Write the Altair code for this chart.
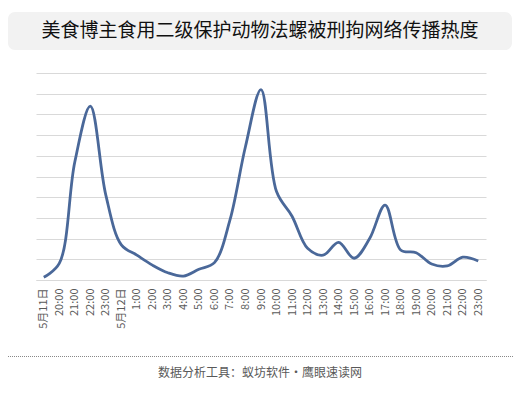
import altair as alt
import pandas as pd

# Data (units = gridline steps)
labels = ["5月11日", "20:00", "21:00", "22:00", "23:00", "5月12日",
          "1:00", "2:00", "3:00", "4:00", "5:00", "6:00", "7:00", "8:00",
          "9:00", "10:00", "11:00", "12:00", "13:00", "14:00", "15:00",
          "16:00", "17:00", "18:00", "19:00", "20:00", "21:00", "22:00", "23:00"]
values = [0.13, 0.8, 5.7, 8.4, 4.1, 1.7,
          1.2, 0.72, 0.35, 0.19, 0.52, 0.84, 2.9, 6.45,
          9.2, 4.27, 3.08, 1.53, 1.2, 1.82, 1.05,
          2.0, 3.62, 1.45, 1.32, 0.77, 0.68, 1.1, 0.92]

title_text = "美食博主食用二级保护动物法螺被刑拘网络传播热度"
footer_text = "数据分析工具：蚁坊软件・鹰眼速读网"

df = pd.DataFrame({"idx": list(range(len(labels))), "value": values})

FONT = "Noto Sans CJK SC"
W, H = 450, 207

label_array = "[" + ",".join("'" + s + "'" for s in labels) + "]"

line = alt.Chart(df).mark_line(
    color="#4A6899", strokeWidth=2.8, interpolate="catmull-rom"
).encode(
    x=alt.X("idx:O", scale=alt.Scale(type="point", padding=0.5),
            axis=alt.Axis(title=None, labelExpr=label_array + "[datum.value]",
                          labelAngle=270, labelFontSize=11, labelColor="#595959",
                          labelFont=FONT, labelPadding=8, ticks=False,
                          domainColor="#d9d9d9", domainWidth=1, grid=False)),
    y=alt.Y("value:Q", scale=alt.Scale(domain=[0, 10], nice=False),
            axis=alt.Axis(title=None, labels=False, ticks=False, domain=False,
                          grid=True, gridColor="#d9d9d9", gridWidth=1,
                          values=list(range(0, 11))))
)

one = pd.DataFrame({"a": [0]})

title_box = alt.Chart(one).mark_rect(
    fill="#f2f2f2", cornerRadius=7
).encode(
    x=alt.value(-28), x2=alt.value(476), y=alt.value(-61), y2=alt.value(-23)
)

title = alt.Chart(one).mark_text(
    text=title_text, font=FONT, fontSize=19, color="#111111",
    align="center", baseline="middle"
).encode(x=alt.value(224), y=alt.value(-42))

footer_rule = alt.Chart(one).mark_rule(
    color="#888888", strokeDash=[1, 1], strokeWidth=1
).encode(x=alt.value(-28), x2=alt.value(477), y=alt.value(283.5))

footer = alt.Chart(one).mark_text(
    text=footer_text, font=FONT, fontSize=12, color="#595959",
    align="center", baseline="middle"
).encode(x=alt.value(224), y=alt.value(300))

chart = alt.layer(title_box, title, line, footer_rule, footer).properties(
    width=W, height=H,
    autosize=alt.AutoSizeParams(type="none"),
    padding={"left": 28, "top": 65, "right": 27, "bottom": 110},
    background="white"
).configure_view(stroke=None)

chart.save("out.html", embed_options={"renderer": "svg", "actions": False})
